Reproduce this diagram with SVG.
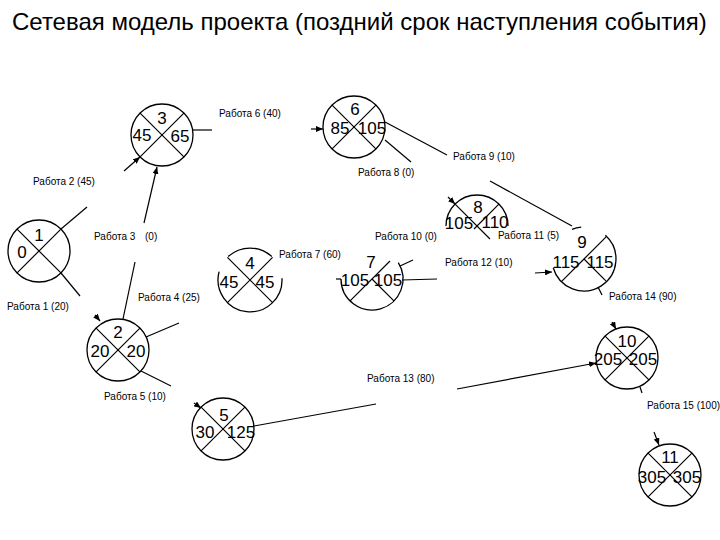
<svg xmlns="http://www.w3.org/2000/svg" width="720" height="540" viewBox="0 0 720 540">
<style>
.c{fill:none;stroke:#000;stroke-width:1.3}
.d{stroke:#000;stroke-width:1.2;fill:none}
.n{font-family:"Liberation Sans",Arial,sans-serif;font-size:17px;text-anchor:middle;fill:#000}
.l{font-family:"Liberation Sans",Arial,sans-serif;font-size:10px;fill:#000}
.t{font-family:"Liberation Sans",Arial,sans-serif;font-size:24px;fill:#000}
.e{stroke:#000;stroke-width:1.2;fill:none}
.a{marker-end:url(#ah)}
</style>
<defs>
<marker id="ah" viewBox="0 0 7 6" refX="7" refY="3" markerWidth="7" markerHeight="6" orient="auto" markerUnits="userSpaceOnUse"><path d="M0,0 L7,3 L0,6 z" fill="#000"/></marker>
</defs>
<rect width="720" height="540" fill="#fff"/>
<text class="t" x="12" y="30">Сетевая модель проекта (поздний срок наступления события)</text>

<g id="n1">
<circle class="c" cx="39" cy="251" r="31"/>
<path class="d" d="M17.1,229.1 L60.9,272.9 M60.9,229.1 L17.1,272.9"/>
<text class="n" x="39" y="241">1</text><text class="n" x="22" y="258">0</text>
</g>
<g id="n2">
<circle class="c" cx="118" cy="350" r="31"/>
<path class="d" d="M96.1,328.1 L139.9,371.9 M139.9,328.1 L96.1,371.9"/>
<text class="n" x="118" y="338">2</text><text class="n" x="100" y="357">20</text><text class="n" x="136" y="357">20</text>
</g>
<g id="n3">
<circle class="c" cx="162" cy="135" r="31"/>
<path class="d" d="M140.1,113.1 L183.9,156.9 M183.9,113.1 L140.1,156.9"/>
<text class="n" x="162" y="124">3</text><text class="n" x="142" y="141">45</text><text class="n" x="180" y="142">65</text>
</g>
<g id="n4">
<path class="c" d="M228.2,256.6 A32,32 0 0 1 271.8,256.6 M282,278.3 A32,32 0 1 1 219.1,271.7"/>
<path class="d" d="M227.4,257.4 L272.6,302.6 M272.6,257.4 L227.4,302.6"/>
<text class="n" x="250" y="269">4</text><text class="n" x="229" y="288">45</text><text class="n" x="265" y="288">45</text>
</g>
<g id="n5">
<circle class="c" cx="223" cy="429" r="31"/>
<path class="d" d="M201.1,407.1 L244.9,450.9 M244.9,407.1 L201.1,450.9"/>
<text class="n" x="224" y="421">5</text><text class="n" x="205" y="438">30</text><text class="n" x="241" y="438">125</text>
</g>
<g id="n6">
<circle class="c" cx="354" cy="127" r="31"/>
<path class="d" d="M332.1,105.1 L375.9,148.9 M375.9,105.1 L332.1,148.9"/>
<text class="n" x="355" y="115">6</text><text class="n" x="340" y="134">85</text><text class="n" x="372" y="134">105</text>
</g>
<g id="n7">
<path class="c" d="M398.3,262.6 A31,31 0 1 1 341,279"/>
<path class="d" d="M390,261 L350.1,300.9 M372,279 L393.9,300.9"/>
<text class="n" x="371" y="268">7</text><text class="n" x="355" y="286">105</text><text class="n" x="388" y="286">105</text>
</g>
<g id="n8">
<path class="c" d="M446,226 A31,31 0 0 1 508,226"/>
<path class="d" d="M455.1,204.1 L490,239 M498.9,204.1 L474,229"/>
<text class="n" x="478" y="213">8</text><text class="n" x="459" y="229">105</text><text class="n" x="495" y="228">110</text>
</g>
<g id="n9">
<path class="c" d="M572,229.3 A32,32 0 0 1 581.2,227.1 M605.4,235.2 A32,32 0 1 1 553.2,267.8"/>
<path class="d" d="M606.6,236.4 L584,259 L561.4,281.6 M584,259 L606.6,281.6"/>
<text class="n" x="582" y="248">9</text><text class="n" x="566" y="268">115</text><text class="n" x="600" y="268">115</text>
</g>
<g id="n10">
<circle class="c" cx="627" cy="358" r="31"/>
<path class="d" d="M605.1,336.1 L648.9,379.9 M648.9,336.1 L605.1,379.9"/>
<text class="n" x="627" y="347">10</text><text class="n" x="608" y="365">205</text><text class="n" x="643" y="365">205</text>
</g>
<g id="n11">
<circle class="c" cx="670" cy="475" r="31"/>
<path class="d" d="M648.1,453.1 L691.9,496.9 M691.9,453.1 L648.1,496.9"/>
<text class="n" x="670" y="463">11</text><text class="n" x="652" y="483">305</text><text class="n" x="687" y="483">305</text>
</g>

<g id="connectors">
<path class="e" d="M61,273 L80,296"/>
<path class="e a" d="M95,315 L100,321"/>
<path class="e" d="M61,229 L87,207"/>
<path class="e a" d="M124,171 L140,157"/>
<path class="e" d="M123,319 L135,262"/>
<path class="e a" d="M144,223 L157,167"/>
<path class="e" d="M146,337 L179,323"/>
<path class="e" d="M141,371 L171,386"/>
<path class="e a" d="M194,403 L201,408"/>
<path class="e" d="M193,130 L212,130"/>
<path class="e a" d="M311,129 L323,129"/>
<path class="e" d="M336,279 L341,279"/>
<path class="e" d="M385,140 L411,162"/>
<path class="e a" d="M448,197 L455,204"/>
<path class="e" d="M385,122 L447,155"/>
<path class="e" d="M490,181 L572,226"/>
<path class="e" d="M400,266 L413,260"/>
<path class="e" d="M402,280 L437,279"/>
<path class="e a" d="M535,273 L552,272"/>
<path class="e" d="M254,426 L376,404"/>
<path class="e a" d="M457,389 L596,363"/>
<path class="e" d="M598,287 L602,295"/>
<path class="e a" d="M612,322 L616,329"/>
<path class="e" d="M640,387 L642,393"/>
<path class="e a" d="M654,432 L659,445"/>
</g>

<g id="labels">
<text class="l" x="7" y="310">Работа 1 (20)</text>
<text class="l" x="33" y="185">Работа 2 (45)</text>
<text class="l" x="94" y="240">Работа 3<tspan x="145">(0)</tspan></text>
<text class="l" x="138" y="301">Работа 4 (25)</text>
<text class="l" x="104" y="400">Работа 5 (10)</text>
<text class="l" x="219" y="117">Работа 6 (40)</text>
<text class="l" x="279" y="258">Работа 7 (60)</text>
<text class="l" x="358" y="176">Работа 8 (0)</text>
<text class="l" x="453" y="160">Работа 9 (10)</text>
<text class="l" x="375" y="240">Работа 10 (0)</text>
<text class="l" x="498" y="239">Работа 11 (5)</text>
<text class="l" x="445" y="266">Работа 12 (10)</text>
<text class="l" x="367" y="382">Работа 13 (80)</text>
<text class="l" x="609" y="300">Работа 14 (90)</text>
<text class="l" x="647" y="409">Работа 15 (100)</text>
</g>
</svg>
